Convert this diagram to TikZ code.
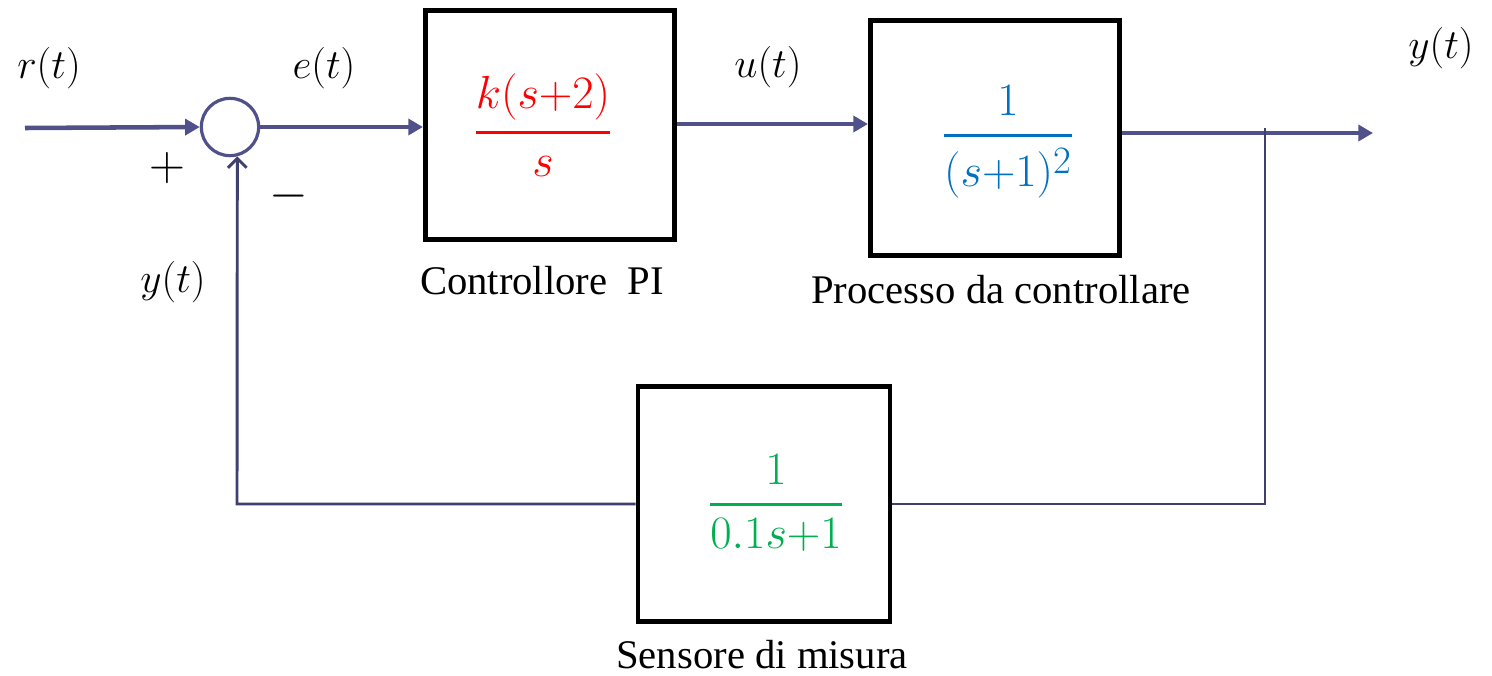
\documentclass[tikz,border=0pt]{standalone}
\usepackage{amsmath}
\usepackage{fontspec}
\setmainfont{Liberation Serif}
\usetikzlibrary{arrows.meta,calc}
\definecolor{linec}{HTML}{50508A}
\definecolor{fbc}{HTML}{40406E}
\definecolor{ctrlred}{HTML}{FF0000}
\definecolor{procblue}{HTML}{0070C0}
\definecolor{sensgreen}{HTML}{00B050}
\begin{document}
\begin{tikzpicture}[x=0.75pt,y=-0.75pt,
  blk/.style={draw=black,line width=3.6pt,minimum width=187pt,minimum height=172pt,inner sep=0pt},
  fwd/.style={draw=linec,line width=3.4pt},
  fbk/.style={draw=fbc,line width=2.2pt},
  tip/.style={-{Triangle[length=11pt,width=12pt]}},
  lbl/.style={font=\fontsize{24.88}{30}\selectfont,scale=1.25},
  sgn/.style={font=\fontsize{24.88}{30}\selectfont,scale=1.5},
  captext/.style={font=\fontsize{30.5}{34}\selectfont},
  tf/.style={font=\fontsize{24.88}{30}\selectfont,scale=1.4}]
\useasboundingbox (0,0) rectangle (1492,675);
% blocks
\node[blk] (ctrl) at (550,125) {};
\node[blk,minimum height=176pt] (proc) at (995,138) {};
\node[blk,minimum width=189pt,minimum height=176pt] (sens) at (764,504) {};
\node[circle,draw=linec,line width=2.4pt,minimum size=43pt,inner sep=0pt] (sum) at (230,127) {};
% transfer functions
\node[tf,text=ctrlred] (tfc) at (543,125) {$\genfrac{}{}{1.9pt}{0}{k(s{+}2)}{s}$};
\node[tf,text=procblue] (tfp) at (1008,142) {$\genfrac{}{}{1.9pt}{0}{1}{(s{+}1)^2}$};
\node[tf,text=sensgreen] (tfs) at (776,503) {$\genfrac{}{}{1.9pt}{0}{1}{0.1s{+}1}$};
% captions
\node[captext] (capc) at (542,281) {Controllore\ \ PI};
\node[captext] (capp) at (1001,290) {Processo da controllare};
\node[captext] (caps) at (762,655) {Sensore di misura};
% signal labels
\node[lbl] (lr) at (49,68) {$r(t)$};
\node[lbl] (le) at (324,68) {$e(t)$};
\node[lbl] (lu) at (768,67) {$u(t)$};
\node[lbl] (ly) at (1441,48) {$y(t)$};
\node[lbl] (lyf) at (173,282) {$y(t)$};
\node[sgn] (lp) at (167,168) {$+$};
\node[sgn] (lm) at (289,196) {$-$};
% coordinates
\coordinate (in) at (25,128);
\coordinate (out) at (1373,133);
\coordinate (branch) at (1265,128);
\coordinate (fbr) at (1265,504);
\coordinate (fbl) at (237,504);
% connectors
\draw[fwd,tip] (in) -- (sum.west);
\draw[fwd,tip] (sum.east) -- (sum.east -| ctrl.west);
\draw[fwd,tip] (ctrl.east |- 0,124) -- (proc.west |- 0,124);
\draw[fwd,tip] (proc.east |- out) -- (out);
\draw[fbk] (branch) -- (fbr) -- (sens.east |- fbr);
\draw[fbk,-{Straight Barb[length=7pt,width=14pt]}] (sens.west |- fbl) -- (fbl) -- (sum.-76);
\end{tikzpicture}
\end{document}
